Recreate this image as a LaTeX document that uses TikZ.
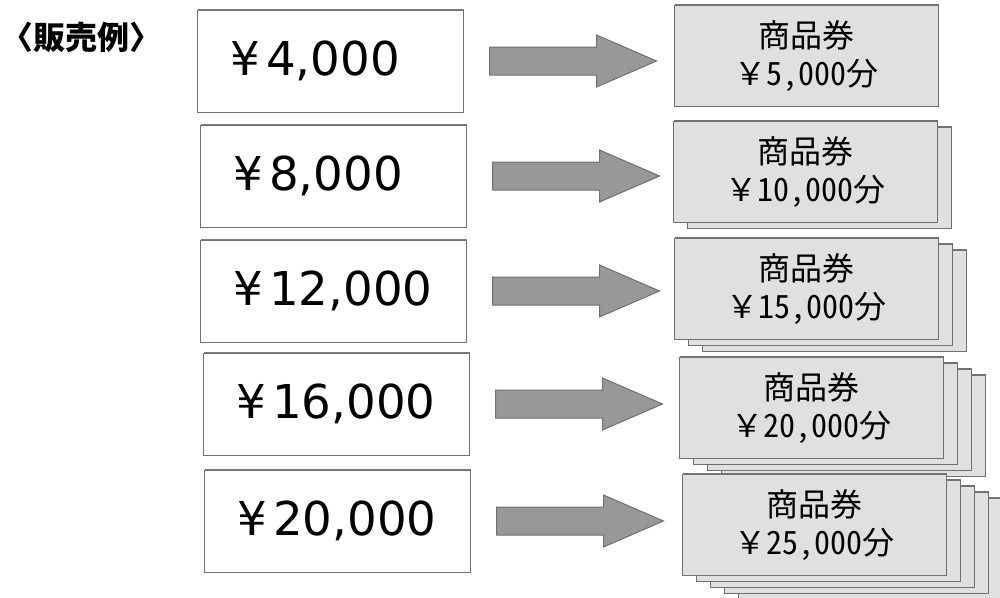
\documentclass[tikz,border=0pt]{standalone}
\usepackage{fontspec}
\setmainfont{Noto Sans CJK JP}
\newfontfamily\hwgothic[RawFeature=+hwid]{Noto Sans CJK JP}
\newfontfamily\pricefont{DejaVu Sans}
\usetikzlibrary{positioning,backgrounds,shadows}

\definecolor{cardgray}{RGB}{224,224,224}
\definecolor{edgegray}{RGB}{112,112,112}
\definecolor{arrowgray}{RGB}{152,152,152}

\tikzset{every picture/.style={line width=0.75pt}}
\tikzset{
  heading/.style={anchor=west,inner sep=0pt,font=\fontsize{24}{30}\selectfont\bfseries},
  pricebox/.style={draw=edgegray,fill=white,minimum width=199.5pt,minimum height=76.5pt,
    text width=150pt,align=left,inner xsep=24.75pt,inner ysep=0pt,
    font=\pricefont\fontsize{35}{42}\selectfont,
    drop shadow={shadow xshift=1.1pt,shadow yshift=1.1pt,fill=black!50,opacity=1}},
  ticket/.style={draw=edgegray,fill=cardgray,minimum width=198pt,minimum height=75.75pt,
    align=center,inner sep=0pt,font=\fontsize{24}{28}\selectfont,
    drop shadow={shadow xshift=1.1pt,shadow yshift=1.1pt,fill=black!55,opacity=1}},
  arrowbody/.style={draw=edgegray,fill=arrowgray},
  bigarrow/.pic={\draw[arrowbody] (0,-14) -- (107,-14) -- (107,-26) -- (167,0) -- (107,26) -- (107,14) -- (0,14) -- cycle;}
}

\begin{document}
\begin{tikzpicture}[x=0.75pt,y=0.75pt,yscale=-1,xscale=1]
\useasboundingbox (0,0) rectangle (1000,597);

% heading
\node[heading] (title) at (1,37) {〈販売例〉};

% rows: amount paid -> vouchers
\foreach \i/\lx/\ly/\cx/\cy/\price/\vouch in {
    1/330/61/806/56/{4,000}/{5,000},
    2/333/176/805/172/{8,000}/{10,000},
    3/333/291/806/289/{12,000}/{15,000},
    4/336/404/811/408/{16,000}/{20,000},
    5/337/521/814/525/{20,000}/{25,000}}{
  \node[pricebox] (p\i) at (\lx,\ly) {¥\hspace{5pt}\price};
  \node[ticket] (t\i) at (\cx,\cy) {\raisebox{-3pt}{商品券}\\\raisebox{-3pt}{￥{\hwgothic \vouch}分}};
  % stacked vouchers behind
  \pgfmathtruncatemacro{\nb}{\i-1}
  \begin{scope}[on background layer]
    \ifnum\nb>0
      \foreach \k in {\nb,...,1}
        \node[ticket] (t\i-\k) at ([shift={(14*\k,6*\k)}]t\i.center) {};
    \fi
  \end{scope}
  % arrow
  \path ([shift={(26,0)}]p\i.east) pic {bigarrow};
}

\end{tikzpicture}
\end{document}
